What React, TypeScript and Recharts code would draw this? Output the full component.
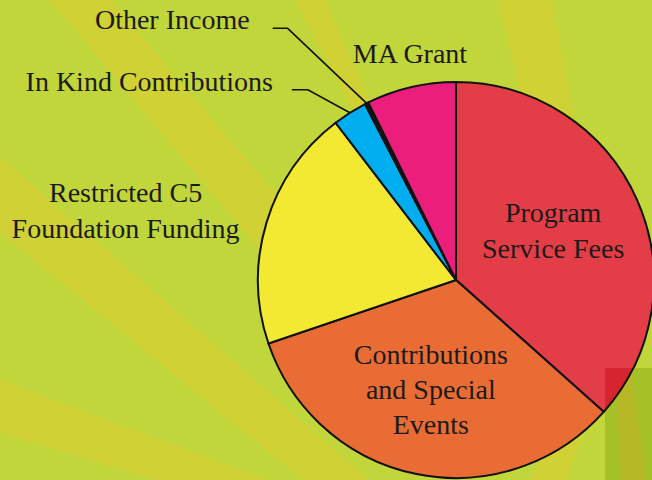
import { PieChart, Pie, Cell } from "recharts";

// income sources, clockwise from 12 o'clock
const sources = [
  "Program Service Fees",
  "Contributions and Special Events",
  "Restricted C5 Foundation Funding",
  "In Kind Contributions",
  "Other Income",
  "MA Grant",
];
const shares = [36.6, 33.2, 19.8, 2.8, 0.3, 7.3];
const sliceColors = ["#e33d47", "#e86c34", "#f3e832", "#00aeef", "#151515", "#ec1e7b"];

const W = 652;
const H = 480;
const CX = 456;
const CY = 280;
const R = 198;
const RADIAN = Math.PI / 180;
const FONT = "'Liberation Serif', 'Times New Roman', serif";

const data = sources.map((name, i) => ({ name, value: shares[i] }));

type Layout = {
  lines: string[];
  inside?: boolean;
  rf?: number;
  dx: number;
  dy: number;
  lh?: number;
  leader?: { ex: number; ey: number; tail: number; gap: number };
};

// label placement, relative to the slice's mid angle
const labelLayout: Record<string, Layout> = {
  "Program Service Fees": { lines: ["Program", "Service Fees"], inside: true, rf: 0.56, dx: -4, dy: -4, lh: 36 },
  "Contributions and Special Events": { lines: ["Contributions", "and Special", "Events"], inside: true, rf: 0.56, dx: -3, dy: 1, lh: 35 },
  "Restricted C5 Foundation Funding": { lines: ["Restricted C5", "Foundation Funding"], dx: -141, dy: -11, lh: 36 },
  "MA Grant": { lines: ["MA Grant"], dx: -1, dy: -33 },
  "In Kind Contributions": { lines: ["In Kind Contributions"], dx: 0, dy: 0, leader: { ex: -42, ey: -23, tail: 16, gap: 19 } },
  "Other Income": { lines: ["Other Income"], dx: 0, dy: 0, leader: { ex: -79, ey: -75, tail: 15, gap: 23 } },
};

// eslint-disable-next-line @typescript-eslint/no-explicit-any
const renderLabel = (props: any) => {
  const { cx, cy, midAngle, outerRadius, name } = props;
  const lay = labelLayout[name];
  if (!lay) return null;
  const cos = Math.cos(-midAngle * RADIAN);
  const sin = Math.sin(-midAngle * RADIAN);
  const textStyle = { fontFamily: FONT, fontSize: 28, fill: "#1c1a1a" };

  if (lay.leader) {
    const sx = cx + outerRadius * cos;
    const sy = cy + outerRadius * sin;
    const ex = sx + lay.leader.ex;
    const ey = sy + lay.leader.ey;
    const tx = ex - lay.leader.tail;
    return (
      <g>
        <polyline
          points={`${sx},${sy} ${ex},${ey} ${tx},${ey}`}
          fill="none"
          stroke="#111"
          strokeWidth={1.6}
        />
        <text x={tx - lay.leader.gap} y={ey + 1} textAnchor="end" style={textStyle}>
          {lay.lines[0]}
        </text>
      </g>
    );
  }

  const r = lay.inside ? outerRadius * (lay.rf ?? 0.5) : outerRadius;
  const x = cx + r * cos + lay.dx;
  const y = cy + r * sin + lay.dy;
  const lh = lay.lh ?? 36;
  const n = lay.lines.length;
  return (
    <text textAnchor="middle" style={textStyle}>
      {lay.lines.map((ln, i) => (
        <tspan key={i} x={x} y={y + (i - (n - 1) / 2) * lh + 9}>
          {ln}
        </tspan>
      ))}
    </text>
  );
};

// decorative sunburst behind the chart
const rays = [
  "498,0 552,0 612,320 575,320",
  "295,0 325,0 415,200 399,200",
  "50,0 111,0 340,270 310,310",
  "0,157 380,490 315,490 0,232",
  "0,380 295,490 190,490 0,433",
  "525,490 562,490 585,430 555,430",
];

export default function App() {
  return (
    <div
      style={{
        position: "absolute",
        left: 0,
        top: 0,
        width: W,
        height: H,
        overflow: "hidden",
        background: "#c1d63b",
      }}
    >
      <svg width={W} height={H} style={{ position: "absolute", left: 0, top: 0 }}>
        {rays.map((p, i) => (
          <polygon key={i} points={p} fill="#cfd134" />
        ))}
      </svg>
      <div style={{ position: "absolute", left: 0, top: 0 }}>
        <PieChart width={W} height={H} margin={{ top: 0, right: 0, bottom: 0, left: 0 }}>
          <Pie
            data={data}
            dataKey="value"
            nameKey="name"
            cx={CX}
            cy={CY}
            outerRadius={R}
            startAngle={90}
            endAngle={-270}
            stroke="#111"
            strokeWidth={2}
            label={renderLabel}
            labelLine={false}
            isAnimationActive={false}
          >
            {data.map((d, i) => (
              <Cell key={d.name} fill={sliceColors[i]} />
            ))}
          </Pie>
        </PieChart>
      </div>
      <svg
        width={W}
        height={H}
        style={{ position: "absolute", left: 0, top: 0, pointerEvents: "none" }}
      >
        <defs>
          <clipPath id="sq">
            <rect x={605} y={368} width={47} height={112} />
          </clipPath>
        </defs>
        <g clipPath="url(#sq)">
          <rect x={605} y={368} width={47} height={112} fill="#a4c127" />
          <polygon points="615,368 631,368 646,480 621,480" fill="#b7b826" />
          <circle cx={CX} cy={CY} r={R} fill="#d6252f" stroke="#111" strokeWidth={2} />
        </g>
      </svg>
    </div>
  );
}
